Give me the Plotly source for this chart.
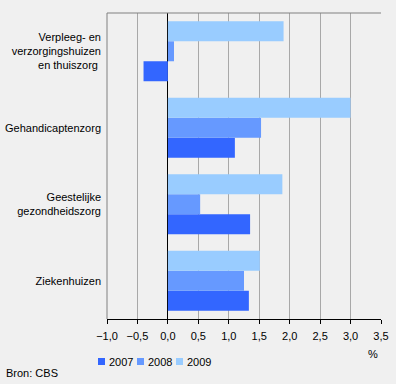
import plotly.graph_objects as go

categories = ["Verpleeg- en<br>verzorgingshuizen<br>en thuiszorg ", "Gehandicaptenzorg",
              "Geestelijke<br>gezondheidszorg", "Ziekenhuizen"]
years = ["2007", "2008", "2009"]
v2007 = [-0.4, 1.1, 1.35, 1.33]
v2008 = [0.1, 1.53, 0.53, 1.25]
v2009 = [1.9, 3.0, 1.88, 1.51]
colors = ["#3366FF", "#6699FF", "#99CCFF"]

W, H = 396, 384
ML, MR, MT, MB = 107, 15, 13, 65
PW, PH = W - ML - MR, H - MT - MB


def px_x(px):
    return (px - ML) / PW


def px_y(py):
    return (H - MB - py) / PH


fig = go.Figure()
for name, vals, c in zip(years, [v2007, v2008, v2009], colors):
    fig.add_trace(go.Bar(y=categories, x=vals, name=name, orientation="h",
                         marker=dict(color=c, line=dict(width=0)), showlegend=False))

font = dict(family="Liberation Sans, Arial, sans-serif", size=11, color="#000000")

shapes = [
    dict(type="line", xref="paper", yref="paper", x0=0, x1=1, y0=1, y1=1,
         line=dict(color="#808080", width=1)),
    dict(type="line", xref="paper", yref="paper", x0=0, x1=0, y0=0, y1=1,
         line=dict(color="#808080", width=1)),
]
annotations = []
# custom compact legend
leg_x = [98, 137, 176]
for i, (name, c) in enumerate(zip(years, colors)):
    sx = leg_x[i]
    shapes.append(dict(type="rect", xref="paper", yref="paper",
                       x0=px_x(sx), x1=px_x(sx + 7), y0=px_y(365), y1=px_y(358),
                       fillcolor=c, line=dict(width=0)))
    annotations.append(dict(text=name, xref="paper", yref="paper", x=px_x(sx + 9),
                            y=px_y(361.5), xanchor="left", yanchor="middle",
                            showarrow=False, font=font))
annotations.append(dict(text="%", xref="paper", yref="paper", x=px_x(373), y=px_y(354),
                        xanchor="center", yanchor="middle", showarrow=False, font=font))
annotations.append(dict(text="Bron: CBS", xref="paper", yref="paper", x=px_x(4), y=px_y(373),
                        xanchor="left", yanchor="middle", showarrow=False, font=font))

fig.update_layout(
    width=W, height=H,
    margin=dict(l=ML, r=MR, t=MT, b=MB, autoexpand=False),
    paper_bgcolor="#F0F0F0", plot_bgcolor="#F0F0F0",
    barmode="group", bargap=0.216, bargroupgap=0,
    separators=", ",
    font=font,
    showlegend=False,
    xaxis=dict(range=[-1.0, 3.5], dtick=0.5, tick0=0, tickformat=".1f",
               showgrid=True, gridcolor="#A8A8A8", gridwidth=1,
               zeroline=True, zerolinecolor="#000000", zerolinewidth=1,
               showline=True, linecolor="#000000", linewidth=1,
               ticks="outside", ticklen=4, tickcolor="#000000",
               ticklabelstandoff=3, automargin=False,
               tickfont=font, fixedrange=True),
    yaxis=dict(categoryorder="array", categoryarray=categories[::-1],
               showgrid=False, zeroline=False, showline=False, automargin=False,
               ticks="", ticklabelstandoff=5, tickfont=font, fixedrange=True),
    shapes=shapes,
    annotations=annotations,
)
fig.write_html("out.html", config=dict(displayModeBar=False, staticPlot=False),
               post_script="document.body.style.margin='0';")
